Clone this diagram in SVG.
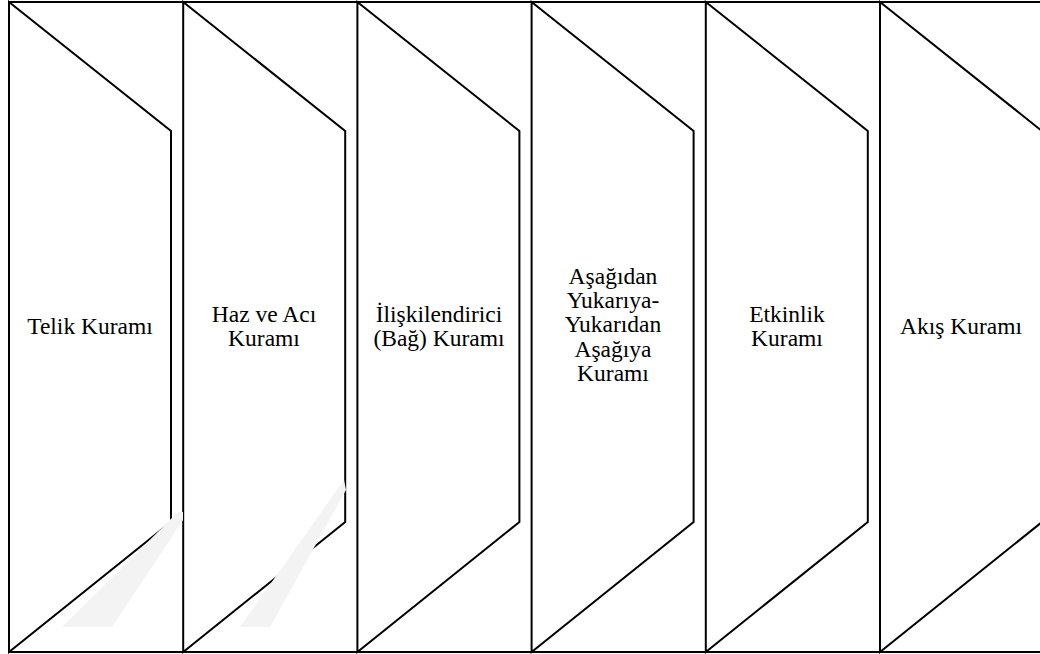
<svg xmlns="http://www.w3.org/2000/svg" width="1040" height="654" viewBox="0 0 1040 654">
<style>
.wm{fill:#f3f3f3;stroke:none}
.sh{fill:#ffffff;stroke:#000;stroke-width:2;stroke-linejoin:miter}
.ln{fill:none;stroke:#000;stroke-width:2}
.t{font-family:'Liberation Serif','Times New Roman',Tinos,'Noto Serif','DejaVu Serif',Times,serif;font-size:23.5px;fill:#000;text-anchor:middle}
</style>
<rect x="0" y="0" width="1040" height="654" fill="#ffffff"/>
<g id="shapes">
<g id="node1"><path class="sh" d="M9,2 L171,131 L171,522 L9,652 Z"/><text class="t" x="90" y="334">Telik Kuramı</text></g>
<g id="node2"><path class="sh" d="M183.2,2 L345.2,131 L345.2,522 L183.2,652 Z"/><text class="t" x="264" y="322">Haz ve Acı</text><text class="t" x="264" y="346">Kuramı</text></g>
<g id="node3"><path class="sh" d="M357.4,2 L519.4,131 L519.4,522 L357.4,652 Z"/><text class="t" x="439" y="322">İlişkilendirici</text><text class="t" x="439" y="346">(Bağ) Kuramı</text></g>
<g id="node4"><path class="sh" d="M531.6,2 L693.6,131 L693.6,522 L531.6,652 Z"/><text class="t" x="613" y="284">Aşağıdan</text><text class="t" x="613" y="308">Yukarıya-</text><text class="t" x="613" y="332">Yukarıdan</text><text class="t" x="613" y="357">Aşağıya</text><text class="t" x="613" y="381">Kuramı</text></g>
<g id="node5"><path class="sh" d="M705.8,2 L867.8,131 L867.8,522 L705.8,652 Z"/><text class="t" x="787" y="322">Etkinlik</text><text class="t" x="787" y="346">Kuramı</text></g>
<g id="node6"><path class="sh" d="M880,2 L1042,131 L1042,522 L880,652 Z"/><text class="t" x="961" y="334">Akış Kuramı</text></g>
</g>
<g id="connectors">
<line class="ln" x1="8" y1="2" x2="1040" y2="2"/>
<line class="ln" x1="8" y1="652" x2="1040" y2="652"/>
</g>
<g id="watermark">
<polygon class="wm" points="178,512 183,512 183,520 112,627 62,627"/>
<polygon class="wm" points="344,480 346,490 270,627 240,627"/>
</g>
</svg>
